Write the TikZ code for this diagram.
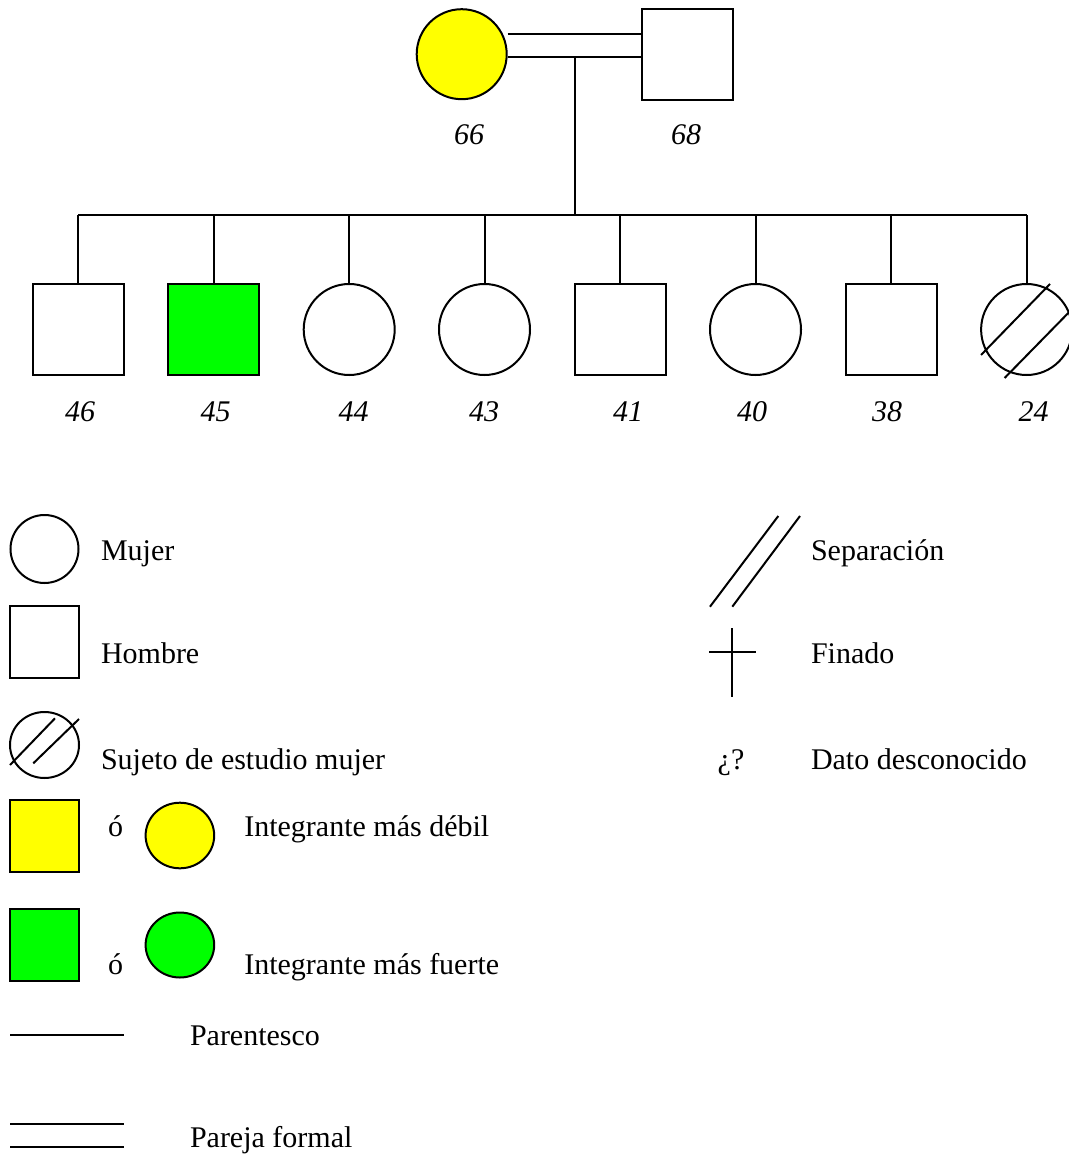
\documentclass[tikz,border=0pt]{standalone}
\usepackage{fontspec}
\setmainfont{Liberation Serif}
\usetikzlibrary{calc,shapes.geometric}
\definecolor{weak}{RGB}{255,255,0}
\definecolor{strong}{RGB}{0,255,0}
\begin{document}
\begin{tikzpicture}[x=0.5pt,y=-0.5pt,line width=1pt,
  male/.style={draw,rectangle,minimum size=45.5pt,inner sep=0pt},
  female/.style={draw,circle,minimum size=45.5pt,inner sep=0pt},
  age/.style={font=\fontsize{15}{18}\selectfont\itshape,anchor=base,inner sep=0pt},
  legtext/.style={font=\fontsize{15}{18}\selectfont,anchor=base west,inner sep=0pt},
  legsq/.style={draw,rectangle,inner sep=0pt,minimum width=34.5pt,minimum height=36pt},
  legel/.style={draw,ellipse,inner sep=0pt,minimum width=34.3pt,minimum height=32.5pt}]
\useasboundingbox (0,0) rectangle (1069,1155);

% parents
\node[female,fill=weak,minimum size=45pt] (mo) at (461.7,54.2) {};
\node[male] (fa) at (687.6,54.6) {};
\draw (mo.26.7 -| mo.east) -- (mo.26.7 -| fa.west);
\draw (mo.-3.2) -- (mo.-3.2 -| fa.west);
\node[age] (amo) at (469,145) {66};
\node[age] (afa) at (686,145) {68};

% children
\node[male] (k1) at (78.4,329.5) {};
\node[male,fill=strong] (k2) at (213.9,329.5) {};
\node[female] (k3) at (349.2,329.5) {};
\node[female] (k4) at (484.5,329.5) {};
\node[male] (k5) at (620,329.5) {};
\node[female] (k6) at (755.5,329.5) {};
\node[male] (k7) at (891.2,329.5) {};
\node[female] (k8) at (1026.6,329.5) {};
\draw ($(k8.center)+(-45.6,25.5)$) -- ($(k8.center)+(23.4,-45.5)$);
\draw ($(k8.center)+(-22,48.5)$) -- ($(k8.center)+(48,-23)$);

% descent lines
\coordinate (pc) at (575,56.7);
\coordinate (sib) at (575,215.5);
\draw (pc) -- (sib);
\draw (k1.north |- sib) -- (k8.north |- sib);
\foreach \k in {k1,k2,k3,k4,k5,k6,k7,k8}
  \draw (\k.north) -- (\k.north |- sib);

% ages
\node[age] (a1) at (80,421) {46};
\node[age] (a2) at (215.7,421) {45};
\node[age] (a3) at (353.7,421) {44};
\node[age] (a4) at (484,421) {43};
\node[age] (a5) at (628,421) {41};
\node[age] (a6) at (752,421) {40};
\node[age] (a7) at (887,421) {38};
\node[age] (a8) at (1033.5,421) {24};

% legend, left column
\node[draw,circle,inner sep=0pt,minimum size=34pt] (lw) at (44.5,549) {};
\node[legtext] (tw) at (100,560) {Mujer};
\node[draw,rectangle,inner sep=0pt,minimum width=34.5pt,minimum height=36pt] (lm) at (44.5,642) {};
\node[legtext] (tm) at (100,663) {Hombre};
\node[draw,ellipse,inner sep=0pt,minimum width=34.5pt,minimum height=33pt] (ls) at (44.5,745) {};
\draw (10,765) -- (55,718.3);
\draw (33.3,763.3) -- (79,719);
\node[legtext] (ts) at (100,769) {Sujeto de estudio mujer};

\node[legsq,fill=weak] (lys) at (44.6,836.2) {};
\node[legtext] (o1) at (107,836) {ó};
\node[legel,fill=weak,minimum height=32.8pt] (lyc) at (179.9,835.5) {};
\node[legtext] (ty) at (243.3,836) {Integrante más débil};

\node[legsq,fill=strong] (lgs) at (44.6,944.7) {};
\node[legtext] (o2) at (107,974) {ó};
\node[legel,fill=strong] (lgc) at (179.9,945) {};
\node[legtext] (tg) at (243.3,974) {Integrante más fuerte};

\coordinate (p1) at (10,1035);
\coordinate (p2) at (124,1035);
\draw (p1) -- (p2);
\node[legtext] (tp) at (189,1045) {Parentesco};
\coordinate (q1) at (10,1124);
\coordinate (q2) at (124,1124);
\coordinate (q3) at (10,1147);
\coordinate (q4) at (124,1147);
\draw (q1) -- (q2);
\draw (q3) -- (q4);
\node[legtext] (tq) at (189,1147) {Pareja formal};

% legend, right column
\coordinate (s1) at (710,606.7);
\coordinate (s2) at (778.3,516);
\coordinate (s3) at (732.3,606.7);
\coordinate (s4) at (800,516);
\draw (s1) -- (s2);
\draw (s3) -- (s4);
\node[legtext] (tsep) at (810,560) {Separación};
\coordinate (c1) at (732.3,628);
\coordinate (c2) at (732.3,697);
\coordinate (c3) at (709.3,651.7);
\coordinate (c4) at (755.7,651.7);
\draw (c1) -- (c2);
\draw (c3) -- (c4);
\node[legtext] (tf) at (810,663) {Finado};
\node[legtext] (qm) at (716.7,769) {¿?};
\node[legtext] (td) at (810,769) {Dato desconocido};
\end{tikzpicture}
\end{document}
